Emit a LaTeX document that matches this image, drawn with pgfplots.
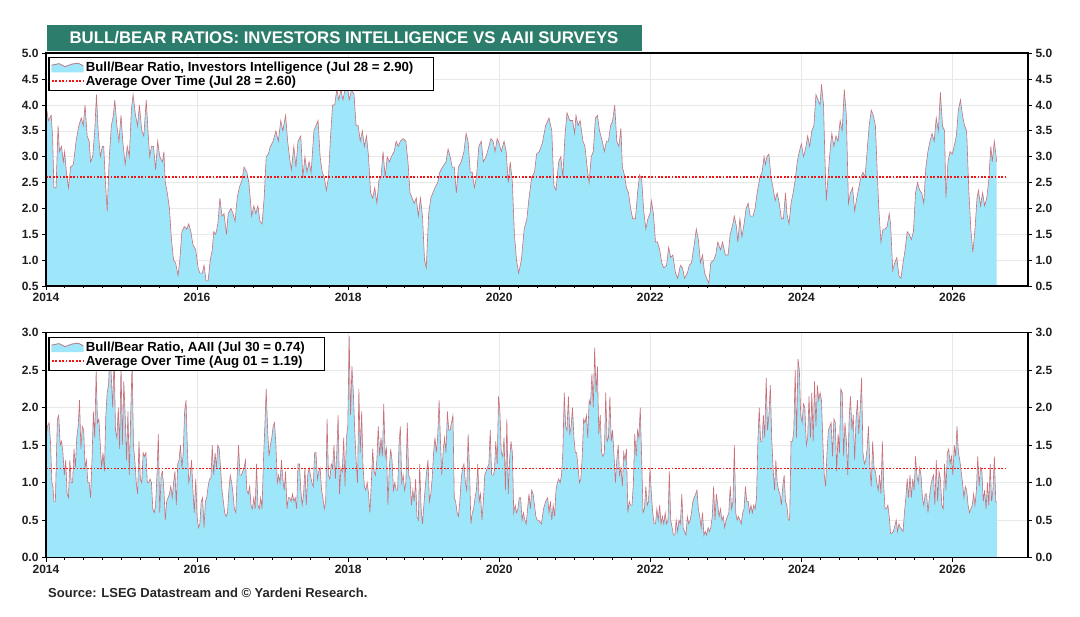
\documentclass[border=0pt]{standalone}
\usepackage{fontspec}
\setmainfont{Liberation Sans}
\usepackage{pgfplots}
\usepackage{pgfplotstable}
\pgfplotsset{compat=1.18}

\definecolor{bbfill}{RGB}{158,231,250}
\definecolor{bbline}{RGB}{205,110,120}
\definecolor{avgred}{RGB}{240,20,20}
\definecolor{titlebg}{RGB}{44,125,108}
\definecolor{gridc}{RGB}{232,232,232}

\tikzset{avgstyle/.style={avgred, line width=1.8pt, dash pattern=on 1.8pt off 1.6pt}}

\pgfplotstableread{
year val
2014.000 4.0
2014.032 3.7
2014.069 3.8
2014.087 3.4
2014.105 2.4
2014.133 2.4
2014.160 3.6
2014.178 3.1
2014.206 3.2
2014.229 2.9
2014.247 3.1
2014.270 2.7
2014.297 2.4
2014.325 2.8
2014.362 2.85
2014.398 3.3
2014.435 3.6
2014.467 3.75
2014.494 3.6
2014.517 4.0
2014.545 3.4
2014.572 3.3
2014.590 2.9
2014.618 3.0
2014.645 3.5
2014.668 4.2
2014.691 3.5
2014.719 3.0
2014.746 3.2
2014.764 3.2
2014.787 2.5
2014.810 1.95
2014.838 3.0
2014.865 3.6
2014.892 3.8
2014.911 4.1
2014.938 3.6
2014.966 3.3
2014.993 3.8
2015.016 3.3
2015.048 2.85
2015.076 3.2
2015.103 3.0
2015.130 3.9
2015.153 4.2
2015.185 3.8
2015.213 3.6
2015.236 4.0
2015.268 3.5
2015.295 3.4
2015.327 4.1
2015.350 3.5
2015.373 3.0
2015.396 3.2
2015.423 3.2
2015.451 2.75
2015.478 3.3
2015.506 3.0
2015.542 2.9
2015.561 3.1
2015.579 2.5
2015.606 2.3
2015.634 2.0
2015.661 1.4
2015.689 1.0
2015.716 0.95
2015.748 0.7
2015.771 1.0
2015.799 1.55
2015.831 1.65
2015.863 1.6
2015.890 1.7
2015.918 1.55
2015.945 1.3
2015.982 1.2
2016.014 0.85
2016.037 0.75
2016.069 0.75
2016.092 0.9
2016.119 0.6
2016.146 0.6
2016.174 1.0
2016.201 1.2
2016.220 1.55
2016.247 1.5
2016.275 1.7
2016.302 2.2
2016.330 1.85
2016.357 1.9
2016.389 1.5
2016.412 1.9
2016.449 2.0
2016.476 1.9
2016.503 1.75
2016.531 2.2
2016.558 2.4
2016.595 2.55
2016.622 2.8
2016.659 2.7
2016.686 2.5
2016.723 1.85
2016.751 2.05
2016.778 1.9
2016.805 2.05
2016.833 1.75
2016.860 1.7
2016.888 2.2
2016.915 3.0
2016.943 3.05
2016.970 3.2
2017.007 3.3
2017.043 3.5
2017.076 3.3
2017.108 3.7
2017.135 3.5
2017.172 3.8
2017.199 3.3
2017.227 2.95
2017.249 2.75
2017.281 3.2
2017.309 2.8
2017.336 3.3
2017.373 3.4
2017.400 2.6
2017.428 3.0
2017.455 2.7
2017.483 2.9
2017.510 2.7
2017.547 3.5
2017.574 3.6
2017.602 3.7
2017.629 3.0
2017.657 2.7
2017.684 2.6
2017.712 2.35
2017.739 2.6
2017.767 3.4
2017.794 4.0
2017.822 4.0
2017.849 4.3
2017.876 4.1
2017.904 4.3
2017.931 4.1
2017.959 4.3
2017.986 4.4
2018.014 4.1
2018.046 4.3
2018.078 4.2
2018.105 3.6
2018.133 3.6
2018.160 3.3
2018.188 3.5
2018.215 3.2
2018.243 3.4
2018.270 3.0
2018.297 2.3
2018.325 2.2
2018.352 2.4
2018.380 2.1
2018.407 2.55
2018.435 2.6
2018.462 3.1
2018.490 2.6
2018.517 3.0
2018.545 2.9
2018.572 3.0
2018.609 3.1
2018.636 3.3
2018.664 3.2
2018.691 3.3
2018.728 3.35
2018.764 3.3
2018.792 2.9
2018.819 2.3
2018.847 2.2
2018.874 2.1
2018.902 2.2
2018.929 1.85
2018.957 2.2
2018.984 1.85
2019.011 1.0
2019.034 0.85
2019.066 1.9
2019.094 2.2
2019.121 2.3
2019.149 2.4
2019.185 2.5
2019.213 2.7
2019.249 2.8
2019.295 2.9
2019.323 3.15
2019.350 3.0
2019.378 2.8
2019.405 2.8
2019.432 2.3
2019.460 2.8
2019.497 2.9
2019.533 3.1
2019.561 3.45
2019.588 3.3
2019.616 2.7
2019.643 2.7
2019.671 2.4
2019.698 2.6
2019.730 3.2
2019.762 3.3
2019.789 2.9
2019.826 3.0
2019.863 3.2
2019.890 3.35
2019.918 3.3
2019.945 3.1
2019.973 3.35
2020.000 3.25
2020.027 3.1
2020.064 3.3
2020.092 3.1
2020.119 2.5
2020.146 2.9
2020.174 2.5
2020.201 1.5
2020.229 1.0
2020.256 0.75
2020.293 1.0
2020.330 1.6
2020.366 1.8
2020.394 2.2
2020.430 2.6
2020.467 2.7
2020.494 3.05
2020.531 3.1
2020.568 3.25
2020.614 3.6
2020.659 3.75
2020.696 3.5
2020.723 2.45
2020.751 2.35
2020.787 2.9
2020.815 3.0
2020.842 2.6
2020.870 3.4
2020.897 3.85
2020.934 3.7
2020.971 3.7
2020.998 3.45
2021.016 3.8
2021.044 3.6
2021.071 3.7
2021.108 3.3
2021.135 3.2
2021.163 2.8
2021.190 2.5
2021.218 3.0
2021.245 3.1
2021.273 3.75
2021.300 3.8
2021.328 3.5
2021.364 3.3
2021.392 3.1
2021.419 3.3
2021.446 3.3
2021.474 3.6
2021.501 3.7
2021.529 4.0
2021.556 3.3
2021.584 3.2
2021.611 3.55
2021.630 2.8
2021.657 2.65
2021.684 2.4
2021.712 2.3
2021.739 2.0
2021.767 1.8
2021.803 1.8
2021.831 2.3
2021.858 2.65
2021.886 2.55
2021.913 1.95
2021.941 1.6
2021.968 1.8
2021.996 1.9
2022.014 2.15
2022.041 1.9
2022.069 1.35
2022.096 1.35
2022.124 1.2
2022.151 0.95
2022.179 0.85
2022.215 0.9
2022.243 1.25
2022.270 1.05
2022.298 1.1
2022.334 0.75
2022.362 0.65
2022.398 0.9
2022.426 0.85
2022.453 0.65
2022.490 0.75
2022.517 0.9
2022.545 0.95
2022.581 1.3
2022.609 1.6
2022.636 1.4
2022.664 0.95
2022.691 1.1
2022.719 0.75
2022.746 0.65
2022.774 0.55
2022.801 0.95
2022.838 1.0
2022.865 1.1
2022.893 1.35
2022.929 1.2
2022.957 1.35
2022.993 1.1
2023.030 1.1
2023.057 1.5
2023.085 1.65
2023.112 1.85
2023.140 1.65
2023.158 1.35
2023.186 1.8
2023.213 1.45
2023.241 1.7
2023.268 2.0
2023.295 2.1
2023.323 1.85
2023.360 1.85
2023.387 2.0
2023.414 2.3
2023.451 2.6
2023.479 2.7
2023.506 3.0
2023.524 2.85
2023.543 3.0
2023.570 3.05
2023.598 2.6
2023.625 2.4
2023.653 2.15
2023.680 2.3
2023.707 2.1
2023.735 1.8
2023.762 1.8
2023.790 2.3
2023.808 1.9
2023.836 1.7
2023.863 2.1
2023.890 2.3
2023.918 2.55
2023.945 2.9
2023.973 3.1
2024.000 3.25
2024.028 3.0
2024.055 3.15
2024.083 3.4
2024.110 3.2
2024.138 3.5
2024.165 3.6
2024.193 4.2
2024.220 4.1
2024.247 4.0
2024.266 4.4
2024.293 4.0
2024.311 3.0
2024.330 2.15
2024.357 2.7
2024.385 3.2
2024.403 3.45
2024.430 3.2
2024.458 3.4
2024.485 3.3
2024.513 3.7
2024.540 3.5
2024.568 4.3
2024.595 3.8
2024.623 2.1
2024.650 2.3
2024.678 2.4
2024.705 1.95
2024.733 2.2
2024.760 2.4
2024.787 2.6
2024.815 2.7
2024.842 2.6
2024.870 3.1
2024.897 3.6
2024.925 3.9
2024.952 3.8
2024.980 3.6
2025.007 2.6
2025.025 2.0
2025.053 1.35
2025.080 1.6
2025.108 1.6
2025.135 1.65
2025.163 1.9
2025.181 1.7
2025.209 0.8
2025.236 0.95
2025.263 1.05
2025.291 0.7
2025.318 0.65
2025.346 0.95
2025.373 1.2
2025.401 1.55
2025.428 1.5
2025.456 1.4
2025.483 1.55
2025.511 2.3
2025.538 2.5
2025.566 2.35
2025.593 2.3
2025.620 2.1
2025.648 2.8
2025.675 3.1
2025.703 3.3
2025.730 3.45
2025.758 3.3
2025.785 3.75
2025.813 3.5
2025.840 4.25
2025.868 3.6
2025.895 3.5
2025.913 2.2
2025.941 2.9
2025.968 3.1
2025.996 3.05
2026.023 3.2
2026.051 3.4
2026.078 3.9
2026.106 4.1
2026.133 3.8
2026.160 3.6
2026.188 3.5
2026.215 2.4
2026.243 1.6
2026.270 1.15
2026.298 1.6
2026.325 2.2
2026.344 2.35
2026.371 2.05
2026.399 2.3
2026.426 2.05
2026.454 2.2
2026.481 2.55
2026.508 3.2
2026.527 2.9
2026.554 3.3
2026.586 2.9
}\iidata

\pgfplotstableread{
year val
2014.000 1.55
2014.018 1.75
2014.041 1.8
2014.059 1.55
2014.078 1.0
2014.092 0.95
2014.105 0.75
2014.124 0.75
2014.137 1.3
2014.151 1.85
2014.169 1.9
2014.188 1.5
2014.206 1.55
2014.224 1.4
2014.243 1.1
2014.261 1.3
2014.279 0.85
2014.297 0.8
2014.316 1.3
2014.334 1.0
2014.352 1.0
2014.371 1.45
2014.389 1.2
2014.407 1.6
2014.426 1.75
2014.444 2.1
2014.462 1.45
2014.481 1.75
2014.499 1.7
2014.517 1.2
2014.535 1.3
2014.554 1.0
2014.572 1.0
2014.590 0.8
2014.609 1.3
2014.627 1.95
2014.645 1.6
2014.664 2.5
2014.682 1.8
2014.700 1.85
2014.719 1.5
2014.737 1.2
2014.755 1.4
2014.773 1.15
2014.792 1.9
2014.810 2.2
2014.828 2.3
2014.847 2.8
2014.865 2.4
2014.883 2.0
2014.902 2.7
2014.920 1.7
2014.938 1.6
2014.957 2.0
2014.975 1.45
2014.993 2.6
2015.011 1.5
2015.030 2.35
2015.048 1.9
2015.066 1.3
2015.085 1.95
2015.103 1.1
2015.121 1.9
2015.140 2.6
2015.158 1.5
2015.176 1.3
2015.195 1.0
2015.213 0.85
2015.231 1.55
2015.249 1.05
2015.268 1.0
2015.286 1.4
2015.304 1.35
2015.323 1.4
2015.341 1.0
2015.359 1.0
2015.378 1.05
2015.396 1.0
2015.414 0.65
2015.433 0.6
2015.451 0.7
2015.469 1.1
2015.487 1.65
2015.506 0.6
2015.524 1.1
2015.542 1.15
2015.561 0.9
2015.579 0.5
2015.597 0.75
2015.616 0.8
2015.634 0.85
2015.652 0.95
2015.671 0.8
2015.689 1.0
2015.707 1.15
2015.725 0.7
2015.744 1.25
2015.762 1.3
2015.780 1.5
2015.799 1.2
2015.817 1.4
2015.835 1.95
2015.854 2.1
2015.872 1.45
2015.890 1.0
2015.909 1.1
2015.927 1.3
2015.945 0.9
2015.963 0.6
2015.982 1.05
2016.000 0.55
2016.018 0.4
2016.037 0.45
2016.055 0.75
2016.073 0.8
2016.092 0.4
2016.110 0.75
2016.128 0.8
2016.146 0.95
2016.165 1.05
2016.183 1.05
2016.201 1.5
2016.220 1.1
2016.238 1.4
2016.256 1.2
2016.275 1.5
2016.293 1.45
2016.311 1.2
2016.330 0.9
2016.348 0.75
2016.366 0.6
2016.384 0.55
2016.403 0.6
2016.421 0.9
2016.439 1.1
2016.458 1.0
2016.476 0.85
2016.494 0.65
2016.513 0.6
2016.531 1.1
2016.549 1.5
2016.568 1.1
2016.586 1.1
2016.604 1.15
2016.622 1.2
2016.641 1.3
2016.659 0.9
2016.677 0.85
2016.696 0.95
2016.714 0.7
2016.732 0.65
2016.751 0.8
2016.769 0.65
2016.787 1.25
2016.806 0.7
2016.824 0.65
2016.842 0.8
2016.860 0.65
2016.879 1.3
2016.897 1.75
2016.915 2.25
2016.934 1.7
2016.952 1.35
2016.970 1.5
2016.989 1.6
2017.007 1.75
2017.025 1.8
2017.044 1.5
2017.062 1.0
2017.080 1.1
2017.098 1.0
2017.117 1.3
2017.135 1.05
2017.153 0.9
2017.172 1.15
2017.190 0.65
2017.208 0.8
2017.227 0.8
2017.245 0.75
2017.263 0.85
2017.282 0.75
2017.300 0.8
2017.318 0.65
2017.336 1.25
2017.355 1.25
2017.373 0.9
2017.391 0.7
2017.410 0.85
2017.428 1.2
2017.446 0.7
2017.465 1.1
2017.483 1.2
2017.501 1.1
2017.520 1.0
2017.538 0.95
2017.556 1.4
2017.574 1.4
2017.593 1.05
2017.611 1.15
2017.629 1.2
2017.648 0.9
2017.666 0.8
2017.684 0.65
2017.703 0.75
2017.721 1.85
2017.739 1.1
2017.758 1.05
2017.776 1.25
2017.794 1.2
2017.812 1.5
2017.831 1.05
2017.849 1.4
2017.867 1.9
2017.886 0.85
2017.904 1.2
2017.922 1.15
2017.941 1.6
2017.959 0.95
2017.977 1.6
2017.995 1.75
2018.014 2.95
2018.032 1.9
2018.050 2.55
2018.069 2.2
2018.087 1.7
2018.105 1.3
2018.124 1.0
2018.142 2.25
2018.160 1.4
2018.179 1.95
2018.197 1.2
2018.215 0.95
2018.233 0.9
2018.252 1.0
2018.270 0.85
2018.288 0.6
2018.307 1.0
2018.325 1.45
2018.343 1.15
2018.362 1.1
2018.380 1.3
2018.398 1.75
2018.417 1.35
2018.435 1.6
2018.453 1.35
2018.471 2.05
2018.490 1.35
2018.508 1.45
2018.526 0.7
2018.545 1.2
2018.563 1.45
2018.581 1.3
2018.600 0.9
2018.618 1.0
2018.636 0.9
2018.655 0.9
2018.673 1.5
2018.691 1.75
2018.709 1.0
2018.728 1.1
2018.746 0.9
2018.764 1.0
2018.783 1.8
2018.801 1.1
2018.819 1.05
2018.838 0.7
2018.856 0.9
2018.874 0.75
2018.893 1.05
2018.911 0.55
2018.929 0.5
2018.947 1.25
2018.966 0.65
2018.984 0.45
2019.002 0.7
2019.021 0.95
2019.039 1.15
2019.057 1.3
2019.076 0.75
2019.094 0.85
2019.112 1.05
2019.131 1.4
2019.149 1.6
2019.167 1.4
2019.185 1.6
2019.204 2.1
2019.222 1.55
2019.240 1.1
2019.259 1.45
2019.277 1.6
2019.295 1.4
2019.314 1.95
2019.332 1.7
2019.350 1.7
2019.368 1.8
2019.387 1.9
2019.405 0.8
2019.423 0.75
2019.442 0.6
2019.460 0.55
2019.478 0.75
2019.497 1.05
2019.515 1.2
2019.533 1.25
2019.552 1.0
2019.570 0.9
2019.588 1.65
2019.606 1.2
2019.625 0.45
2019.643 0.6
2019.661 0.65
2019.680 0.8
2019.698 0.9
2019.716 1.25
2019.735 0.75
2019.753 0.85
2019.771 0.5
2019.790 0.75
2019.808 1.1
2019.826 1.15
2019.844 1.2
2019.863 1.25
2019.881 1.7
2019.899 1.1
2019.918 1.1
2019.936 1.15
2019.954 1.55
2019.973 1.25
2019.991 2.15
2020.009 1.95
2020.027 1.4
2020.046 1.35
2020.064 1.6
2020.082 0.9
2020.101 1.85
2020.119 0.85
2020.137 1.3
2020.156 1.55
2020.174 1.4
2020.192 0.6
2020.211 0.7
2020.229 0.6
2020.247 0.65
2020.265 0.8
2020.284 0.8
2020.302 0.5
2020.320 0.6
2020.339 0.5
2020.357 0.45
2020.375 0.65
2020.394 0.85
2020.412 0.65
2020.430 0.9
2020.449 0.85
2020.467 0.7
2020.485 0.55
2020.503 0.5
2020.522 0.5
2020.559 0.45
2020.586 0.65
2020.614 0.75
2020.641 0.8
2020.659 0.6
2020.678 0.75
2020.696 0.5
2020.714 0.7
2020.733 0.55
2020.751 0.9
2020.769 1.0
2020.787 1.05
2020.806 1.0
2020.824 1.1
2020.842 1.4
2020.861 2.2
2020.879 1.75
2020.897 1.7
2020.916 2.15
2020.934 1.65
2020.952 1.75
2020.970 2.0
2020.989 1.6
2021.007 1.4
2021.025 1.4
2021.044 1.2
2021.062 1.0
2021.080 1.05
2021.099 1.35
2021.117 1.85
2021.135 1.8
2021.154 1.9
2021.172 1.6
2021.190 2.1
2021.208 2.05
2021.227 2.45
2021.245 2.0
2021.263 2.8
2021.282 2.2
2021.300 2.55
2021.318 1.65
2021.337 1.9
2021.355 1.4
2021.373 1.35
2021.392 1.4
2021.410 2.2
2021.428 1.55
2021.446 1.6
2021.465 2.15
2021.483 1.55
2021.501 1.7
2021.520 1.35
2021.538 1.0
2021.556 1.3
2021.575 1.5
2021.593 1.1
2021.611 1.2
2021.630 0.95
2021.648 1.4
2021.666 1.3
2021.684 1.45
2021.703 0.6
2021.721 0.75
2021.739 0.7
2021.758 0.7
2021.776 1.0
2021.794 1.65
2021.813 1.35
2021.831 1.7
2021.849 1.6
2021.867 2.0
2021.886 1.3
2021.904 0.6
2021.922 0.65
2021.941 0.95
2021.959 0.7
2021.977 0.75
2021.996 1.2
2022.014 0.85
2022.032 0.6
2022.051 0.45
2022.069 0.45
2022.087 0.65
2022.105 0.5
2022.124 0.7
2022.142 0.45
2022.160 0.55
2022.179 0.45
2022.197 0.6
2022.215 0.45
2022.234 0.5
2022.252 1.15
2022.270 0.5
2022.289 0.4
2022.307 0.3
2022.325 0.3
2022.343 0.5
2022.362 0.35
2022.380 0.5
2022.398 0.45
2022.417 0.85
2022.435 0.4
2022.453 0.35
2022.472 0.3
2022.490 0.55
2022.508 0.45
2022.527 0.5
2022.545 0.6
2022.563 0.75
2022.581 0.8
2022.600 0.85
2022.618 0.9
2022.636 0.65
2022.655 0.55
2022.673 0.4
2022.691 0.6
2022.710 0.3
2022.728 0.35
2022.746 0.3
2022.765 0.4
2022.783 0.35
2022.801 0.4
2022.820 0.55
2022.838 0.95
2022.856 0.5
2022.874 0.85
2022.893 0.7
2022.911 0.55
2022.929 0.65
2022.948 0.5
2022.966 0.55
2022.984 0.4
2023.003 0.5
2023.021 0.55
2023.039 0.6
2023.058 0.95
2023.076 0.65
2023.094 0.75
2023.113 1.5
2023.131 0.6
2023.149 0.5
2023.168 0.55
2023.186 0.5
2023.204 0.45
2023.223 0.6
2023.241 0.65
2023.259 0.95
2023.277 0.75
2023.296 0.75
2023.314 0.6
2023.332 0.7
2023.351 0.6
2023.369 0.7
2023.387 0.65
2023.406 0.8
2023.424 1.55
2023.442 2.0
2023.460 1.55
2023.479 1.55
2023.497 1.9
2023.515 1.6
2023.534 2.4
2023.552 1.7
2023.570 1.9
2023.589 2.3
2023.607 1.6
2023.625 1.2
2023.644 0.9
2023.662 1.3
2023.680 1.0
2023.698 0.9
2023.717 0.85
2023.735 0.7
2023.753 0.95
2023.772 1.1
2023.790 0.75
2023.808 0.7
2023.827 0.5
2023.845 0.5
2023.863 1.55
2023.882 1.55
2023.900 1.7
2023.918 2.5
2023.936 1.6
2023.955 2.65
2023.973 2.5
2023.991 1.9
2024.010 1.8
2024.028 2.05
2024.046 2.0
2024.065 1.5
2024.083 1.6
2024.101 2.15
2024.120 1.6
2024.138 2.2
2024.156 1.55
2024.174 2.35
2024.193 1.75
2024.211 2.3
2024.229 2.1
2024.248 2.2
2024.266 2.1
2024.284 1.55
2024.303 1.1
2024.321 0.95
2024.339 1.4
2024.358 1.7
2024.376 1.75
2024.394 1.8
2024.412 1.35
2024.431 1.85
2024.449 1.8
2024.467 1.15
2024.486 1.65
2024.504 1.4
2024.522 2.25
2024.541 2.2
2024.559 1.35
2024.577 1.8
2024.596 1.55
2024.614 1.1
2024.632 1.85
2024.650 2.15
2024.669 1.7
2024.687 1.9
2024.705 1.3
2024.724 1.85
2024.742 2.1
2024.760 1.65
2024.779 2.0
2024.797 2.4
2024.815 1.4
2024.834 1.25
2024.852 1.3
2024.870 1.45
2024.888 1.75
2024.907 1.2
2024.925 0.95
2024.943 1.55
2024.962 1.2
2024.980 1.15
2024.998 1.0
2025.017 0.9
2025.035 1.1
2025.053 0.85
2025.072 1.55
2025.090 0.95
2025.108 0.65
2025.126 0.65
2025.145 0.7
2025.163 0.55
2025.181 0.32
2025.200 0.33
2025.218 0.35
2025.236 0.42
2025.255 0.5
2025.273 0.35
2025.291 0.45
2025.310 0.4
2025.328 0.38
2025.346 0.35
2025.364 0.6
2025.383 0.8
2025.401 1.05
2025.419 0.8
2025.438 1.1
2025.456 0.8
2025.474 1.05
2025.493 0.9
2025.511 1.35
2025.529 1.1
2025.548 1.0
2025.566 1.2
2025.584 1.1
2025.602 0.8
2025.621 0.7
2025.639 0.85
2025.657 0.85
2025.676 0.6
2025.694 0.8
2025.712 0.95
2025.731 1.05
2025.749 1.1
2025.767 0.7
2025.786 1.3
2025.804 0.75
2025.822 1.15
2025.840 1.05
2025.859 0.7
2025.877 0.65
2025.895 1.25
2025.914 0.9
2025.932 1.4
2025.950 1.45
2025.969 1.25
2025.987 1.35
2026.005 1.1
2026.024 1.5
2026.042 1.35
2026.060 1.75
2026.079 1.4
2026.097 1.3
2026.115 1.15
2026.133 1.0
2026.152 0.8
2026.170 0.95
2026.188 0.9
2026.207 0.7
2026.225 0.6
2026.243 0.65
2026.262 0.7
2026.280 0.85
2026.298 0.7
2026.317 0.9
2026.335 1.35
2026.353 0.95
2026.371 1.2
2026.390 1.15
2026.408 0.75
2026.426 0.9
2026.445 0.65
2026.463 1.0
2026.481 0.7
2026.500 1.25
2026.518 0.75
2026.536 0.9
2026.555 1.35
2026.573 0.75
2026.587 0.74
}\aaiidata

\pgfplotsset{
  bbbase/.style={
    scale only axis, width=982pt,
    xmin=2014, xmax=2027,
    tick align=outside,
    major tick length=4pt, minor tick length=2.5pt,
    every tick/.style={black, line width=0.8pt},
    ticklabel style={font=\bfseries\fontsize{12}{14}\selectfont, color=black!88},
    /pgf/number format/assume math mode=true,
    yticklabel style={/pgf/number format/.cd, fixed, fixed zerofill, precision=1},
  },
  bbmain/.style={
    bbbase,
    xtick={2014,2016,2018,2020,2022,2024,2026},
    minor x tick num=7,
    xticklabel style={/pgf/number format/1000 sep={}},
    axis line style={line width=1.6pt},
    grid=major, major grid style={gridc, line width=0.6pt},
    ytick pos=left, xtick pos=bottom,
    legend cell align=left,
    legend style={draw=black, line width=1.2pt, fill=white,
      font=\bfseries\fontsize{13.2}{15}\selectfont,
      inner xsep=2pt, inner ysep=1.8pt, row sep=-1.2pt, anchor=north west},
  },
  bbright/.style={
    bbbase,
    xtick=\empty,
    ytick pos=right, yticklabel pos=right,
    axis line style={line width=1.6pt},
  },
}

\begin{document}
\begin{tikzpicture}
\useasboundingbox (0,0) rectangle (1080pt,617pt);

% title box
\fill[titlebg] (46.5pt,566pt) rectangle (642pt,592pt);
\node[text=white, font=\bfseries\fontsize{16.8}{18}\selectfont, anchor=center] at (344pt,579pt) {BULL/BEAR RATIOS: INVESTORS INTELLIGENCE VS AAII SURVEYS};

% ---------- top panel ----------
\begin{axis}[bbmain, height=232.7pt, at={(46pt,331pt)}, anchor=south west,
  ymin=0.5, ymax=5, ytick={0.5,1.0,1.5,2.0,2.5,3.0,3.5,4.0,4.5,5.0},
  legend style={at={(rel axis cs:0.0025,0.983)}}]
  \addplot[fill=bbfill, draw=none, forget plot] table[x=year,y=val]{\iidata} \closedcycle;
  \addplot[bbline, line width=0.6pt, forget plot] table[x=year,y=val]{\iidata};
  \addplot[avgstyle, forget plot] coordinates {(2014,2.6) (2026.7,2.6)};
  \addlegendimage{legend image code/.code={
    \fill[bbfill] (0pt,-4.5pt) -- (0pt,2pt) -- (7pt,3.5pt) -- (13pt,0.5pt) -- (20pt,3pt) -- (26pt,4pt) -- (31pt,1.5pt) -- (31pt,-4.5pt) -- cycle;
    \draw[bbline, line width=0.7pt] (0pt,2pt) -- (7pt,3.5pt) -- (13pt,0.5pt) -- (20pt,3pt) -- (26pt,4pt) -- (31pt,1.5pt);}}
  \addlegendentry{Bull/Bear Ratio, Investors Intelligence (Jul 28 = 2.90)\rule{16pt}{0pt}}
  \addlegendimage{legend image code/.code={
    \draw[avgstyle] (0pt,0pt) -- (31pt,0pt);}}
  \addlegendentry{Average Over Time (Jul 28 = 2.60)}
\end{axis}
\begin{axis}[bbright, height=232.7pt, at={(46pt,331pt)}, anchor=south west,
  ymin=0.5, ymax=5, ytick={0.5,1.0,1.5,2.0,2.5,3.0,3.5,4.0,4.5,5.0}]
  \addplot[draw=none] coordinates {(2014,1) (2027,1)};
\end{axis}

% ---------- bottom panel ----------
\begin{axis}[bbmain, height=225pt, at={(46pt,59.3pt)}, anchor=south west,
  ymin=0, ymax=3, ytick={0,0.5,1.0,1.5,2.0,2.5,3.0},
  legend style={at={(rel axis cs:0.0025,0.98)}}]
  \addplot[fill=bbfill, draw=none, forget plot] table[x=year,y=val]{\aaiidata} \closedcycle;
  \addplot[bbline, line width=0.6pt, forget plot] table[x=year,y=val]{\aaiidata};
  \addplot[avgstyle, forget plot] coordinates {(2014,1.19) (2026.7,1.19)};
  \addlegendimage{legend image code/.code={
    \fill[bbfill] (0pt,-4.5pt) -- (0pt,2pt) -- (7pt,3.5pt) -- (13pt,0.5pt) -- (20pt,3pt) -- (26pt,4pt) -- (31pt,1.5pt) -- (31pt,-4.5pt) -- cycle;
    \draw[bbline, line width=0.7pt] (0pt,2pt) -- (7pt,3.5pt) -- (13pt,0.5pt) -- (20pt,3pt) -- (26pt,4pt) -- (31pt,1.5pt);}}
  \addlegendentry{Bull/Bear Ratio, AAII (Jul 30 = 0.74)\rule{16pt}{0pt}}
  \addlegendimage{legend image code/.code={
    \draw[avgstyle] (0pt,0pt) -- (31pt,0pt);}}
  \addlegendentry{Average Over Time (Aug 01 = 1.19)}
\end{axis}
\begin{axis}[bbright, height=225pt, at={(46pt,59.3pt)}, anchor=south west,
  ymin=0, ymax=3, ytick={0,0.5,1.0,1.5,2.0,2.5,3.0}]
  \addplot[draw=none] coordinates {(2014,1) (2027,1)};
\end{axis}

% source
\node[anchor=base west, font=\bfseries\fontsize{13}{15}\selectfont, text=black!85, inner sep=0pt] at (48pt,19pt) {Source: LSEG Datastream and © Yardeni Research.};
\end{tikzpicture}
\end{document}
